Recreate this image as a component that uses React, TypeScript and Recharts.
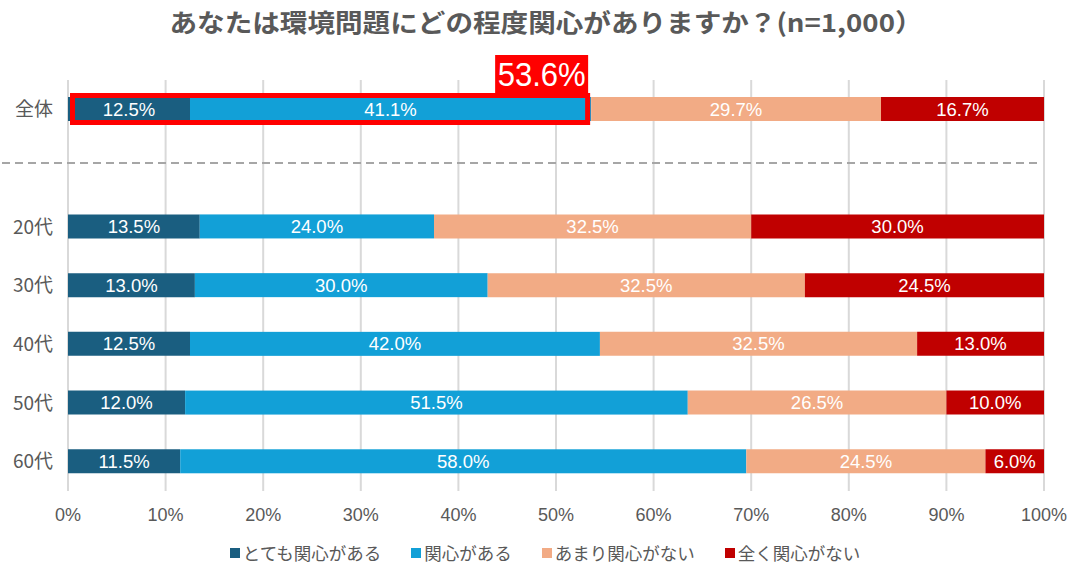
import React from 'react';
import { BarChart, Bar, XAxis, YAxis, CartesianGrid, Legend, LabelList, ReferenceLine } from 'recharts';

const categories = ['全体', 'SEP', '20代', '30代', '40代', '50代', '60代'];
const seriesNames = ['とても関心がある', '関心がある', 'あまり関心がない', '全く関心がない'];
const seriesColors = ['#1a5e80', '#12a0d7', '#f2ab85', '#c00000'];
const veryInterested = [12.5, null, 13.5, 13.0, 12.5, 12.0, 11.5];
const interested = [41.1, null, 24.0, 30.0, 42.0, 51.5, 58.0];
const notMuch = [29.7, null, 32.5, 32.5, 32.5, 26.5, 24.5];
const notAtAll = [16.7, null, 30.0, 24.5, 13.0, 10.0, 6.0];
const xTicks = [0, 10, 20, 30, 40, 50, 60, 70, 80, 90, 100];
const titleText = 'あなたは環境問題にどの程度関心がありますか？(n=1,000）';

const seriesKeys = ['s1', 's2', 's3', 's4'];
const seriesValues = [veryInterested, interested, notMuch, notAtAll];
const data = categories.map((c, i) => {
  const row: any = { cat: c };
  seriesKeys.forEach((k, j) => {
    row[k] = seriesValues[j][i];
  });
  return row;
});

const LATIN = "'Liberation Sans', Arial, 'Noto Sans CJK JP', sans-serif";
const CJK = "'Noto Sans CJK JP', 'Liberation Sans', sans-serif";
const GRAY = '#595959';

const fmt = (v: any) => (v == null || isNaN(Number(v)) ? '' : `${Number(v).toFixed(1)}%`);

const HighlightShape = (props: any) => {
  const { x, y, width, height, fill, index, payload } = props;
  if (x == null || width == null || isNaN(width) || !height) return <g />;
  const rect = <rect x={x} y={y} width={width} height={height} fill={fill} />;
  if (index !== 0) return rect;
  const a = payload.s1;
  const b = payload.s2;
  const startX = x - width * (a / b);
  const endX = x + width;
  const boxX = startX + 4.5;
  const boxW = endX - 3.5 - boxX;
  const boxY = y - 1.5;
  const boxH = height + 3;
  const outerTop = boxY - 2.5;
  const lblW = 93;
  const lblH = 38;
  const lblX = endX - 3 - lblW;
  const lblY = outerTop - lblH;
  return (
    <g>
      {rect}
      <rect x={boxX} y={boxY} width={boxW} height={boxH} fill="none" stroke="#ff0000" strokeWidth={5} />
      <rect x={lblX} y={lblY} width={lblW} height={lblH} fill="#ff0000" />
      <text
        x={lblX + lblW / 2}
        y={lblY + lblH / 2 + 12}
        textAnchor="middle"
        fill="#ffffff"
        fontSize={33}
        fontFamily={LATIN}
        textLength={88}
        lengthAdjust="spacingAndGlyphs"
      >
        {`${(a + b).toFixed(1)}%`}
      </text>
    </g>
  );
};

const SepLine = (props: any) => {
  const { x1, y1, x2 } = props;
  if (x1 == null) return <g />;
  return (
    <line x1={x1 - 66} y1={y1 - 5} x2={x2 - 4} y2={y1 - 5} stroke="#a6a6a6" strokeWidth={2} strokeDasharray="8 5" />
  );
};

const LegendContent = () => (
  <div
    style={{
      display: 'flex',
      justifyContent: 'center',
      alignItems: 'center',
      height: 20,
      gap: 30,
      fontFamily: CJK,
      fontSize: 17.5,
      color: GRAY,
      lineHeight: '20px',
    }}
  >
    {seriesNames.map((n, i) => (
      <div key={n} style={{ display: 'flex', alignItems: 'center' }}>
        <span style={{ display: 'inline-block', width: 10, height: 10, background: seriesColors[i], marginRight: 3 }} />
        <span>{n}</span>
      </div>
    ))}
  </div>
);

export default function App() {
  return (
    <div style={{ position: 'absolute', left: 0, top: 0, width: 1090, height: 583, background: '#ffffff' }}>
      <svg width={1090} height={50} style={{ position: 'absolute', left: 0, top: 0 }}>
        <text
          x={546}
          y={32}
          textAnchor="middle"
          fill={GRAY}
          fontSize={25}
          fontWeight="bold"
          fontFamily={CJK}
          textLength={753}
          lengthAdjust="spacingAndGlyphs"
        >
          {titleText}
        </text>
      </svg>
      <div style={{ position: 'absolute', left: 0, top: 0 }}>
        <BarChart
          width={1090}
          height={583}
          data={data}
          layout="vertical"
          margin={{ top: 80, right: 46, bottom: 20, left: 0 }}
          barSize={24}
        >
          <CartesianGrid vertical horizontal={false} stroke="#d9d9d9" strokeWidth={2} />
          <XAxis
            type="number"
            domain={[0, 100]}
            ticks={xTicks}
            tickFormatter={(v: number) => `${v}%`}
            axisLine={false}
            tickLine={false}
            tickMargin={11}
            height={52}
            interval={0}
            tick={{ fill: GRAY, fontSize: 18, fontFamily: LATIN }}
          />
          <YAxis
            type="category"
            dataKey="cat"
            width={68}
            axisLine={false}
            tickLine={false}
            tickMargin={9}
            interval={0}
            tickFormatter={(v: string) => (v === 'SEP' ? '' : v)}
            tick={{ fill: GRAY, fontSize: 19, fontFamily: CJK }}
          />
          <ReferenceLine y="SEP" shape={SepLine} ifOverflow="visible" />
          {seriesKeys.map((k, j) => (
            <Bar
              key={k}
              dataKey={k}
              name={seriesNames[j]}
              stackId="a"
              fill={seriesColors[j]}
              isAnimationActive={false}
              shape={j === 1 ? HighlightShape : undefined}
            >
              <LabelList
                dataKey={k}
                position="center"
                fill="#ffffff"
                fontSize={18.5}
                fontFamily={LATIN}
                formatter={fmt}
              />
            </Bar>
          ))}
          <Legend
            verticalAlign="bottom"
            content={LegendContent}
            wrapperStyle={{ left: 0, width: 1090, bottom: 20 }}
          />
        </BarChart>
      </div>
    </div>
  );
}
